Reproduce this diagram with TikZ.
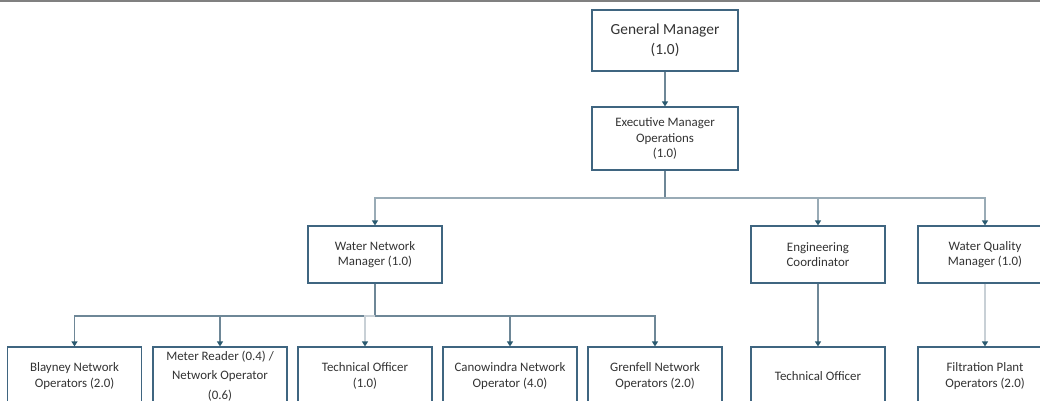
\documentclass[tikz,border=0pt]{standalone}
\usepackage{fontspec}
\setmainfont{Carlito}
\usetikzlibrary{arrows.meta}
\definecolor{boxc}{HTML}{3F6580}
\definecolor{linec}{HTML}{6E8797}
\definecolor{lightc}{HTML}{C8D0D6}
\definecolor{tipc}{HTML}{2B5A70}
\tikzset{
  role/.style={draw=boxc, line width=1.2pt, fill=white, minimum width=134pt, minimum height=57pt, align=center, inner sep=2pt, font=\fontsize{12.9}{15.5}\selectfont, text=black!80},
  lowrole/.style={role, minimum height=58pt},
  conn/.style={draw=linec, line width=1.2pt},
  arr/.style={conn, -{Triangle[width=6pt,length=5pt,color=tipc]}},
}
\begin{document}
\begin{tikzpicture}[x=1pt,y=-1pt]
\useasboundingbox (0,0) rectangle (1040,400);
\clip (0,0) rectangle (1040,400);
\fill[white] (0,0) rectangle (1040,400);
\draw[gray, line width=1.6pt] (0,0.8) -- (1040,0.8);

\node[role, minimum width=146pt, minimum height=61pt, font=\fontsize{15.4}{20}\selectfont] (gm) at (665,40.5) {General Manager\\(1.0)};
\node[role, minimum width=146pt, minimum height=63pt] (em) at (665,138.5) {Executive Manager\\Operations\\(1.0)};

\node[role] (wnm) at (375,254.5) {Water Network\\Manager (1.0)};
\node[role] (ec) at (818,254.5) {Engineering\\Coordinator};
\node[role] (wqm) at (985,254.5) {Water Quality\\Manager (1.0)};

\node[lowrole] (bno) at (74.5,376) {Blayney Network\\Operators (2.0)};
\node[lowrole] (mr) at (220,376) {Meter Reader (0.4) /\\[4pt]Network Operator\\[4pt](0.6)};
\node[lowrole] (to1) at (365,376) {Technical Officer\\(1.0)};
\node[lowrole] (cno) at (510,376) {Canowindra Network\\Operator (4.0)};
\node[lowrole] (gno) at (655,376) {Grenfell Network\\Operators (2.0)};
\node[lowrole] (to2) at (818,376) {Technical Officer};
\node[lowrole] (fpo) at (985,376) {Filtration Plant\\Operators (2.0)};

\coordinate (bus1) at (665,198);
\coordinate (bus2) at (375,316);

\draw[arr] (gm) -- (em);
\draw[conn] (em) -- (bus1);
\draw[arr, draw=linec!70] (bus1) -| (wnm.north);
\draw[arr, draw=linec!70] (bus1) -| (ec.north);
\draw[arr, draw=linec!70] (bus1) -| (wqm.north);

\draw[conn] (wnm) -- (bus2);
\draw[arr] (bus2) -| (bno.north);
\draw[arr] (bus2) -| (mr.north);
\draw[arr, draw=lightc] (bus2) -| (to1.north);
\draw[arr] (bus2) -| (cno.north);
\draw[arr] (bus2) -| (gno.north);

\draw[arr] (ec) -- (to2);
\draw[arr, draw=lightc] (wqm) -- (fpo);
\end{tikzpicture}
\end{document}
